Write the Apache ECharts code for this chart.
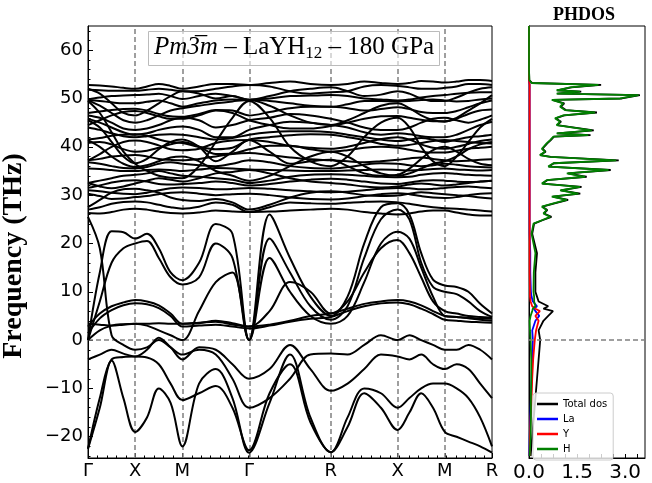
<!DOCTYPE html>
<html><head><meta charset="utf-8">
<script src="https://cdn.jsdelivr.net/npm/echarts@6/dist/echarts.min.js"></script>
<style>html,body{margin:0;padding:0;background:#fff}#c{width:652px;height:483px}</style>
</head><body><div id="c"></div>
<script>
// high-symmetry path
const kLabels = ['Γ', 'X', 'M', 'Γ', 'R', 'X', 'M', 'R'];
const kNodes = [0, 0.5, 1.0, 1.7071, 2.5731, 3.2802, 3.7802, 4.2802];
const yTicks = [-20, -10, 0, 10, 20, 30, 40, 50, 60];
const dosTicks = [0, 1.5, 3.0];

// phonon bands (THz), 4 steps per path segment:
// Γ-X | X-M | M-Γ | Γ-R | R-X | X-M | M-R
const lb01 = [-22.5,-14,-4.2,-12,-19, -16,-10,-13,-22, -9,-6,-12,-23.3, -13,-3,-16,-23.2, -18,-11,-14,-18.6, -15,-11,-14,-19, -20,-21,-22,-23.3];
const lb02 = [-22.5,-12,-4,-3.5,-3.4, -3.6,-5,-9,-12.4, -11,-9.5,-14,-22.8, -11,-5,-17,-23.2, -16,-10,-11,-14, -12,-10,-9,-9, -10,-12,-16,-22];
const lb03 = [-4,-3,-2,-2.8,-3.4, -2,0.5,-1.5,-4, -1.5,-2,-5,-8, -6,-1,-6,-10.5, -9,-6,-3,-3.4, -4,-3,-5,-6, -5,-6,-9,-12];
const lb04 = [2.8,5.5,7,7.8,8.3, 8,7.2,5.5,3.4, 3.6,3.8,3.2,2.8, 3.2,4,5,5.5, 6.5,7.5,8,8.3, 8,7.2,6,5, 4.8,4.6,4.5,4.4];
const lb05 = [1.4,4.5,6.2,7.2,7.6, 7.4,6.6,5,2.8, 3,3.2,2.8,2.4, 3,3.8,4.4,4.8, 6,7,7.6,7.8, 7.4,6.5,5.4,4.2, 4,3.8,3.7,3.6];
const lb06 = [0,14,22.5,22.3,21, 22,19,14,12.4, 16,24,22,0, 26,17,9,5, 9,20,27.5,28.3, 26,18,12.5,11.3, 11,10,7.5,5.5];
const lb07 = [0,8,16,19,20, 20.5,17,13,11.5, 13,20,17,0, 21,14,7,4.2, 7,17,25,27, 25,16,11,10, 9.5,8,6,4.8];
const lb08 = [0,2,3,3.3,3.4, 3,2,1,0, 6,12,14,0, 17,10,5,3.4, 5,12,20,22.4, 21,15,9,5, 4.8,4.5,4.2,4];
const lb09 = [25.5,19,1,-1,-2, -1.5,0,-1.5,-3, -2,-3,-8,-14, -12,-8,-3,-2.8, -3,-1,1,0, 1,0,-1,-2, -2,-1,-2,-4];
const lb10 = [3.4,3.2,3,3.2,3.4, 3.4,3.5,3.4,3.4, 3.5,4,3.5,2.8, 6,12,10,5.5, 8,14,19,20.7, 18,13,8,6, 5.5,5,4.8,4.6];
const hb01 = [52.8,52.7,52.5,52.2,52, 52.5,53,52.6,52, 52.5,53,53,52.8, 53.2,53.5,53,52.8, 53,53.5,53.2,53, 53.2,53.6,53.5,53.3, 53.5,53.8,53.8,53.6];
const hb02 = [51.8,51.7,51.6,51.6,51.6, 51.8,52,51.8,51.5, 51.5,52,52.5,52.8, 52.5,51.5,51,51.3, 51.5,52.5,52.8,52.6, 52.3,52,52,52.2, 52.5,53,53,52.8];
const hb03 = [49.8,50.2,50.5,50.6,50.7, 50.8,51,50.5,49.9, 50.5,51,50.5,49.8, 50,50.5,50.6,50.7, 50.5,50,49.8,49.6, 49.8,50.2,50.5,50.7, 51,51.2,51.3,51.3];
const hb04 = [49.7,49.5,49.2,49,49, 49.3,49.6,49,48.3, 49,49.6,49.8,49.7, 49.5,49,48.5,48.3, 48.8,49.5,49.5,49.4, 49.5,49.7,49.8,49.6, 49.4,49.5,49.8,50];
const hb05 = [49.6,48.5,47,45.5,45, 45.5,46.5,47.5,48, 48.5,49,49.4,49.7, 48.5,46.5,45,44.5, 45.5,47,48.5,49, 48,46.5,45.5,45.2, 46,47.5,49,50.7];
const hb06 = [47,47.3,47.6,47.8,47.9, 47.5,46.8,46.3,46.2, 46.8,47.6,47.5,46.5, 47.2,48,48.3,48.3, 48,47.5,47.8,48.2, 47.8,47.2,47,47, 47.4,48.2,49,49.6];
const hb07 = [46.5,46,45,43.8,43.5, 43.8,44.5,45.5,46, 45.5,44,44.5,45.5, 46,46.8,46.5,45.8, 45,44,43.5,43.5, 44,45,45.8,46, 45.5,45,45.6,46.5];
const hb08 = [45.8,45,44,43,42.5, 42.8,43.5,44,44.2, 43.5,42,42,43.5, 44.5,45.2,45,44.5, 44,43,42.5,42.8, 42.6,42.2,42,42, 42.5,43.5,44.5,45.2];
const hb09 = [44,43.5,42.8,42.2,42, 42.2,42.5,42.6,42.5, 42,41.5,41.8,42.5, 43,43.2,43.2,43, 42.5,42,41.5,41.2, 41.5,41.8,41.5,41, 41.5,42,42.2,42.5];
const hb10 = [41.5,41.8,42.3,42.5,42.6, 42.3,41.5,41,40.8, 40,39.5,39.8,41.5, 42,42.4,42.6,42.5, 42,41.4,40.6,40.2, 40.4,40.8,41.2,41.4, 41.2,41,40.8,40.7];
const hb11 = [40.8,41,40.5,39.5,39, 39.2,39.8,40.5,41, 40,38.5,38.6,39.5, 40.2,40.2,39.5,39, 39.3,39.8,40,39.8, 39.4,39,38.8,38.8, 39.2,39.6,39.8,40];
const hb12 = [37.2,37.5,38,38.2,38.3, 38,37.5,37.3,37.2, 37.5,38,38.5,38.7, 38.3,37.8,37.4,37.2, 37,36.8,37,37.3, 37.6,37.8,37.5,37.2, 37,37.1,37.3,37.4];
const hb13 = [36.8,36.5,36,35.6,35.5, 35.8,36.5,36.8,36.5, 36.2,36,36.5,37.2, 36.8,36,35.6,35.5, 35.8,36.3,36.6,36.5, 36.2,36,36.2,36.5, 36.3,36,35.8,35.7];
const hb14 = [35.5,35.4,35.2,35,35, 35.2,35.3,35.2,35, 35.3,35.6,35.5,35.3, 35.2,35.1,35,35, 35.1,35.2,35.3,35.2, 35.1,35.2,35.4,35.5, 35.3,35.2,35.1,35.2];
const hb15 = [32.5,33,33.5,34,34.2, 34.5,35,34.5,34, 33.8,33.5,33.2,32.5, 33,33.8,34.2,34.3, 34.2,34,33.8,33.7, 33.8,34.2,34.5,34.6, 34.4,34.2,34.1,34];
const hb16 = [31.5,32,32.6,33,33.1, 32.8,32.3,32.2,32.3, 32.5,32.8,32.5,32, 32.3,32.8,33.2,33.4, 33.2,32.8,32.4,32.3, 32.6,33,33.1,33, 32.8,32.7,32.8,33];
const hb17 = [31,30.8,30.5,30.3,30.2, 30.5,31,31.4,31.6, 31.5,31.2,31.3,31.5, 31.3,31,30.8,30.6, 30.7,31,31.3,31.5, 31.4,31.2,31.3,31.5, 31.7,31.8,31.6,31.4];
const hb18 = [30.3,29.8,29.2,29.3,29.6, 29.8,30.2,30.5,30.6, 30.3,30,30.2,30.3, 30,29.5,29.2,29.1, 29.3,29.8,30.2,30.4, 30.2,29.8,29.5,29.4, 29.6,30,30.3,30.4];
const hb19 = [27,27.5,28.2,28.6,28.7, 28.5,28,27.5,27.2, 27.6,28.5,28,26.5, 27.5,28.5,28.3,28.2, 28.4,28.6,28.7,28.5, 28.2,27.8,27.5,27.3, 27.2,27,26.8,26.6];
const hb20 = [26.3,26.2,26.5,27,27.2, 27,26.6,26.3,26.2, 26.4,26.8,26.6,26.5, 26.6,26.8,27,27.2, 27,26.5,26.2,26, 26.2,26.6,26.8,26.8, 26.4,26,25.8,25.8];
const hb21 = [49.5,47,43,39,36.5, 35,34,33.6,33.5, 36,41,46,49.5, 46,40,37,36, 38,42,45,46, 44,40,37,36, 38,41,44,45.8];
const hb22 = [45.5,44,41,38,36.6, 37.5,39.5,41,41.5, 40,37,39,41.4, 39,36.5,37,37.3, 36,34.5,34,34.2, 35.5,37.5,39.3,40, 39,37.5,36.5,36.2];
const hb23 = [41.4,40,38,36.5,35.8, 36.2,37,37.8,38, 37,35,34,33, 34,36,38,39, 38,36,34.5,34, 34.5,35.5,36.5,37, 38,39.5,40.5,41];
const hb24 = [52,51,49,47,46.5, 47.5,49,50.5,51.5, 51,50,50.5,49.7, 50.5,51.5,52,52.3, 51.5,50.5,50.8,51.5, 51,50,49.5,49.5, 50.2,51.2,52,52.3];
const hb25 = [44.5,45.5,46.5,47.2,47.4, 47,46.3,45.8,45.8, 46.5,47.5,47,45.5, 44.5,43.8,43.8,44.3, 45,45.8,46.3,46.4, 46,45.6,45.3,45.3, 45.8,46.8,47.5,47.7];
const hb26 = [37.2,38.5,40,41,41.3, 41,40.3,39.5,39.3, 39.6,40.8,41.3,41.4, 41,40.2,39.8,39.6, 40,40.8,41.6,42, 41.5,40.5,39.8,39.6, 40,40.6,41.2,41.5];
const hb27 = [32.5,31.8,31.4,31.8,32.4, 33,33.5,33.2,32.8, 33.5,34.5,34.8,35.2, 34.5,33.5,32.8,32.5, 32.2,31.8,31.6,31.8, 32.2,32.4,32.2,32, 32.2,32.5,32.8,33];
const hb28 = [27.5,29,30.5,31.2,31.3, 31,30.5,29.5,29, 28.8,29.2,28.5,27, 28,29.5,30.5,30.8, 30.5,30,29.8,29.9, 30.3,30.6,30.4,30.2, 30,29.8,29.5,29.3];

// projected phonon DOS (states/THz) on a shared frequency grid
const dosFreq = [-24,-20,-16,-12,-8,-4,0,2,4,5,6,6.5,7,8,9,10,14,18,22,24.1,24.8,25.5,26.2,26.9,27.6,28.3,29,29.7,30.3,31,31.7,32.4,33.1,33.8,34.5,35.2,35.9,36.6,37.2,37.9,38.3,39,39.6,40.7,41.4,42.1,42.4,42.8,43.4,44.5,45.2,45.9,46.5,47.1,47.6,48.3,49,49.7,50,50.7,51,51.4,51.7,52.3,52.8,53.2,53.8,56,65];
const dosTotal = [0.05,0.1,0.15,0.2,0.25,0.3,0.35,0.3,0.45,0.6,0.75,0.45,0.6,0.3,0.25,0.2,0.2,0.25,0.1,0.16,0.42,0.7,0.47,0.57,0.42,0.8,1.22,0.74,1.6,1.0,1.64,0.42,0.57,1.8,1.22,2.55,0.62,0.78,2.8,0.68,0.35,0.52,0.42,0.57,0.68,0.78,1.92,0.88,2.02,0.88,1.0,0.83,1.1,2.12,1.15,1.0,1.1,0.73,2.9,3.46,0.88,1.63,0.88,1.32,2.25,0.1,0.01,0,0];
const dosLa = [0.01,0.02,0.04,0.06,0.08,0.1,0.12,0.1,0.2,0.32,0.2,0.15,0.25,0.12,0.08,0.06,0.04,0.04,0.02,0.02,0.02,0.02,0.02,0.02,0.02,0.02,0.02,0.02,0.02,0.02,0.02,0.02,0.02,0.02,0.02,0.02,0.02,0.02,0.02,0.02,0.02,0.02,0.02,0.02,0.02,0.02,0.02,0.02,0.02,0.02,0.02,0.02,0.02,0.02,0.02,0.02,0.02,0.02,0.02,0.02,0.02,0.02,0.02,0.02,0.02,0.01,0,0,0];
const dosY = [0.02,0.03,0.05,0.08,0.1,0.13,0.18,0.22,0.3,0.2,0.34,0.2,0.1,0.05,0.03,0.03,0.02,0.02,0.02,0.02,0.02,0.02,0.02,0.02,0.02,0.02,0.02,0.02,0.02,0.02,0.02,0.02,0.02,0.02,0.02,0.02,0.02,0.02,0.02,0.02,0.02,0.02,0.02,0.02,0.02,0.02,0.02,0.02,0.02,0.02,0.02,0.02,0.02,0.02,0.02,0.02,0.02,0.02,0.02,0.02,0.02,0.02,0.02,0.02,0.02,0.01,0,0,0];
const dosH = [0.02,0.05,0.06,0.06,0.07,0.07,0.05,0.03,0.02,0.05,0.1,0.12,0.2,0.16,0.16,0.14,0.15,0.2,0.08,0.14,0.4,0.66,0.45,0.55,0.4,0.76,1.18,0.71,1.54,0.97,1.59,0.4,0.55,1.75,1.18,2.48,0.6,0.76,2.72,0.66,0.34,0.5,0.4,0.55,0.66,0.76,1.85,0.86,1.96,0.86,0.97,0.81,1.07,2.06,1.12,0.97,1.07,0.71,2.84,3.42,0.86,1.59,0.86,1.28,2.17,0.08,0.01,0,0];

const bands = [lb01, lb02, lb03, lb04, lb05, lb06, lb07, lb08, lb09, lb10,
  hb01, hb02, hb03, hb04, hb05, hb06, hb07, hb08, hb09, hb10, hb11, hb12, hb13, hb14,
  hb15, hb16, hb17, hb18, hb19, hb20, hb21, hb22, hb23, hb24, hb25, hb26, hb27, hb28];

// k coordinate of every sample: 4 equal steps inside each segment
const kGrid = [];
for (let s = 0; s < kNodes.length - 1; s++) {
  for (let j = 0; j < 4; j++) kGrid.push(kNodes[s] + (kNodes[s + 1] - kNodes[s]) * j / 4);
}
kGrid.push(kNodes[kNodes.length - 1]);

const YMIN = -24.4, YMAX = 65;
const gray = '#808080';
const chart = echarts.init(document.getElementById('c'), null, { renderer: 'canvas' });

const series = bands.map(b => ({
  type: 'line', xAxisIndex: 0, yAxisIndex: 0, showSymbol: false, smooth: 0.35,
  silent: true, z: 3,
  lineStyle: { color: '#000', width: 2 },
  data: b.map((v, j) => [kGrid[j], v])
}));

// dashed guides at the interior high-symmetry points and at zero
series.push({
  type: 'line', xAxisIndex: 0, yAxisIndex: 0, data: [], silent: true,
  markLine: {
    symbol: 'none', silent: true, label: { show: false }, z: 1,
    lineStyle: { color: gray, type: [5, 3], width: 1.5 },
    data: kNodes.slice(1, -1).map(k => ({ xAxis: k })).concat([{ yAxis: 0 }])
  }
});

const dosSeries = [
  ['Total dos', dosTotal, '#000'],
  ['La', dosLa, '#0000ff'],
  ['Y', dosY, '#ff0000'],
  ['H', dosH, '#008000']
].map(([name, vals, col]) => ({
  name, type: 'line', xAxisIndex: 1, yAxisIndex: 1, showSymbol: false, silent: true,
  color: col, lineStyle: { color: col, width: 1.8 },
  data: vals.map((v, j) => [v, dosFreq[j]])
}));
dosSeries[0].markLine = {
  symbol: 'none', silent: true, label: { show: false },
  lineStyle: { color: gray, type: [5, 3], width: 1.5 },
  data: [{ yAxis: 0 }]
};

const minorY = [];
for (let v = -24; v <= 64; v += 2) minorY.push(v);
const minorK = [];
for (let v = 0; v <= 4.28; v += 0.1) minorK.push(+v.toFixed(2));
const minorD = [];
for (let v = 0; v <= 3.6; v += 0.375) minorD.push(v);

const tickFont = { fontFamily: 'DejaVu Sans', fontSize: 18, color: '#000' };

chart.setOption({
  animation: false,
  backgroundColor: '#fff',
  grid: [
    { left: 88, top: 26, width: 404, height: 432, show: true, borderColor: '#000', borderWidth: 1, backgroundColor: 'transparent' },
    { left: 529, top: 26, width: 116, height: 432, show: true, borderColor: '#000', borderWidth: 1, backgroundColor: 'transparent' }
  ],
  xAxis: [
    { type: 'value', gridIndex: 0, min: 0, max: kNodes[kNodes.length - 1],
      axisLine: { show: true, onZero: false, lineStyle: { color: '#000', width: 1 } },
      splitLine: { show: false },
      axisTick: { show: true, inside: true, length: 5, customValues: kNodes, lineStyle: { color: '#000' } },
      axisLabel: { show: true, customValues: kNodes, margin: 4, ...tickFont,
        formatter: v => kLabels[kNodes.indexOf(v)] } },
    { type: 'value', gridIndex: 1, min: 0, max: 3.62,
      axisLine: { show: true, onZero: false, lineStyle: { color: '#000', width: 1 } },
      splitLine: { show: false },
      axisTick: { show: true, inside: true, length: 4, customValues: minorD, lineStyle: { color: '#000' } },
      axisLabel: { show: true, customValues: dosTicks, margin: 5, fontFamily: 'DejaVu Sans', fontSize: 20, color: '#000',
        formatter: v => v.toFixed(1) } },
    { type: 'value', gridIndex: 0, min: 0, max: kNodes[kNodes.length - 1], position: 'bottom',
      axisLine: { show: false, onZero: false }, splitLine: { show: false }, axisLabel: { show: false },
      axisTick: { show: true, inside: true, length: 2.5, customValues: minorK, lineStyle: { color: '#000' } } }
  ],
  yAxis: [
    { type: 'value', gridIndex: 0, min: YMIN, max: YMAX,
      axisLine: { show: true, onZero: false, lineStyle: { color: '#000', width: 1 } },
      splitLine: { show: false },
      axisTick: { show: true, inside: true, length: 5, customValues: yTicks, lineStyle: { color: '#000' } },
      axisLabel: { show: true, customValues: yTicks, margin: 5, ...tickFont,
        formatter: v => (v < 0 ? '\u2212' + (-v) : '' + v) } },
    { type: 'value', gridIndex: 1, min: YMIN, max: YMAX,
      axisLine: { show: true, onZero: false, lineStyle: { color: '#000', width: 1 } },
      splitLine: { show: false }, axisTick: { show: false }, axisLabel: { show: false } },
    { type: 'value', gridIndex: 0, min: YMIN, max: YMAX, position: 'left',
      axisLine: { show: false, onZero: false }, splitLine: { show: false }, axisLabel: { show: false },
      axisTick: { show: true, inside: true, length: 2.5, customValues: minorY, lineStyle: { color: '#000' } } }
  ],
  title: {
    text: '{i|Pm3\u0305m} – LaYH{s|12} – 180 GPa',
    left: 148, top: 29,
    padding: [4, 6, 4, 6],
    backgroundColor: 'rgba(255,255,255,0.6)',
    borderColor: '#bbbbbb', borderWidth: 1,
    textStyle: {
      fontFamily: 'Liberation Serif', fontSize: 25, fontWeight: 'normal', color: '#000',
      rich: {
        i: { fontFamily: 'Liberation Serif', fontSize: 25, fontStyle: 'italic', color: '#000' },
        s: { fontFamily: 'Liberation Serif', fontSize: 17, color: '#000', verticalAlign: 'bottom', padding: [12, 0, 0, 0] }
      }
    }
  },
  legend: {
    orient: 'vertical', left: 533, top: 393,
    data: ['Total dos', 'La', 'Y', 'H'],
    icon: 'rect', itemWidth: 21, itemHeight: 2.5, itemGap: 3,
    padding: [5, 6, 5, 4],
    backgroundColor: 'rgba(255,255,255,0.8)', borderColor: '#cccccc', borderWidth: 1, borderRadius: 3,
    textStyle: { fontFamily: 'DejaVu Sans', fontSize: 10, color: '#000', lineHeight: 12 }
  },
  graphic: [
    { type: 'text', left: 553, top: 6, style: { text: 'PHDOS', fontFamily: 'Liberation Serif', fontWeight: 'bold', fontSize: 18, fill: '#000' } },
    { type: 'text', x: 14, y: 256, rotation: Math.PI / 2, style: { text: 'Frequency (THz)', fontFamily: 'Liberation Serif', fontWeight: 'bold', fontSize: 28, fill: '#000', align: 'center', verticalAlign: 'middle' } }
  ],
  series: series.concat(dosSeries)
});
</script>
</body></html>
